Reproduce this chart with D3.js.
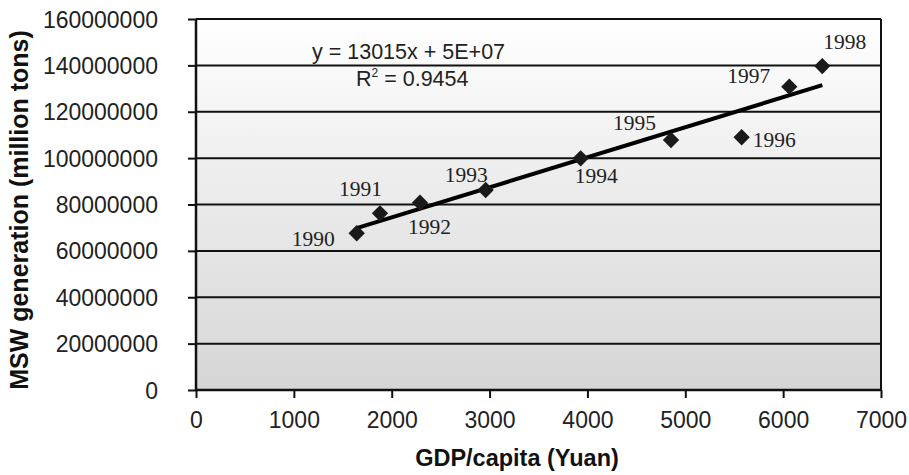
<!DOCTYPE html>
<html>
<head>
<meta charset="utf-8">
<script src="https://cdn.jsdelivr.net/npm/d3@7"></script>
<style>
  body { margin: 0; background: #fff; }
  svg { display: block; }
</style>
</head>
<body>
<svg id="drawing_region"></svg>
<script>
// values
const years = [1990, 1991, 1992, 1993, 1994, 1995, 1996, 1997, 1998];
const gdp = [1642, 1880, 2289, 2960, 3931, 4854, 5576, 6063, 6400];
const msw = [67.6e6, 76.2e6, 80.8e6, 86.25e6, 99.9e6, 107.8e6, 109.0e6, 130.8e6, 139.7e6];
const xTicks = [0, 1000, 2000, 3000, 4000, 5000, 6000, 7000];
const yTicks = [0, 20000000, 40000000, 60000000, 80000000, 100000000, 120000000, 140000000, 160000000];
const equationText = "y = 13015x + 5E+07";
const r2Text = "0.9454";

// label offsets for each year (dx, dy from the point)
const labelPos = [
  {dx: -65, dy: 13},
  {dx: -41, dy: -17},
  {dx: -12, dy: 31},
  {dx: -41, dy: -8},
  {dx: -6, dy: 25},
  {dx: -58, dy: -10},
  {dx: 11, dy: 10},
  {dx: -62, dy: -4},
  {dx: 1, dy: -17}
];

const data = years.map((y, i) => ({year: y, x: gdp[i], y: msw[i], lp: labelPos[i]}));

const config = {
  width: 909,
  height: 475,
  margin: {top: 19, right: 28, bottom: 85, left: 196}
};

const svg = d3.select('#drawing_region')
  .attr('width', config.width)
  .attr('height', config.height);

const inner_width = config.width - config.margin.left - config.margin.right;
const inner_height = config.height - config.margin.top - config.margin.bottom;

const chart = svg.append('g')
  .attr('transform', `translate(${config.margin.left}, ${config.margin.top})`);

const xscale = d3.scaleLinear().domain([0, 7000]).range([0, inner_width]);
const yscale = d3.scaleLinear().domain([0, 160000000]).range([inner_height, 0]);

// background gradient
const grad = svg.append('defs').append('linearGradient')
  .attr('id', 'bg').attr('x1', 0).attr('y1', 0).attr('x2', 0).attr('y2', 1);
grad.append('stop').attr('offset', '0%').attr('stop-color', '#ffffff');
grad.append('stop').attr('offset', '100%').attr('stop-color', '#d5d5d5');

chart.append('rect')
  .attr('width', inner_width)
  .attr('height', inner_height)
  .attr('fill', 'url(#bg)');

// gridlines
chart.selectAll('.grid')
  .data(yTicks)
  .join('line')
  .attr('class', 'grid')
  .attr('x1', 0).attr('x2', inner_width)
  .attr('y1', d => yscale(d)).attr('y2', d => yscale(d))
  .attr('stroke', '#111').attr('stroke-width', 2);

// right border
chart.append('line')
  .attr('x1', inner_width).attr('x2', inner_width)
  .attr('y1', 0).attr('y2', inner_height)
  .attr('stroke', '#111').attr('stroke-width', 2);

const xaxis = d3.axisBottom(xscale).tickValues(xTicks).tickSize(8).tickPadding(14).tickFormat(d3.format('d'));
const yaxis = d3.axisLeft(yscale).tickValues(yTicks).tickSize(8).tickPadding(30).tickFormat(d3.format('d'));

const xg = chart.append('g')
  .attr('transform', `translate(0, ${inner_height})`)
  .call(xaxis);
const yg = chart.append('g').call(yaxis);

[xg, yg].forEach(g => {
  g.select('.domain').attr('stroke', '#111').attr('stroke-width', 2.5);
  g.selectAll('.tick line').attr('stroke', '#111').attr('stroke-width', 2);
  g.selectAll('.tick text')
    .attr('font-family', 'Liberation Sans, Arial, sans-serif')
    .attr('font-size', 23)
    .attr('fill', '#222');
});
xg.select('.domain').attr('d', `M0,0H${inner_width}`);
yg.select('.domain').attr('d', `M0,${inner_height}V0`);
yg.selectAll('.tick text').attr('x', -38).attr('dy', '0.35em');

// trendline (least squares)
const mx = d3.mean(gdp), my = d3.mean(msw);
const slope = d3.sum(data, d => (d.x - mx) * (d.y - my)) / d3.sum(data, d => (d.x - mx) ** 2);
const icpt = my - slope * mx;
const xr = d3.extent(gdp);
chart.append('line')
  .attr('x1', xscale(xr[0])).attr('y1', yscale(slope * xr[0] + icpt))
  .attr('x2', xscale(xr[1])).attr('y2', yscale(slope * xr[1] + icpt))
  .attr('stroke', '#000').attr('stroke-width', 4);

// points
chart.selectAll('.pt')
  .data(data)
  .join('path')
  .attr('class', 'pt')
  .attr('d', d3.symbol().type(d3.symbolDiamond2).size(170))
  .attr('transform', d => `translate(${xscale(d.x)}, ${yscale(d.y)})`)
  .attr('fill', '#1a1a1a');

// year labels
chart.selectAll('.yl')
  .data(data)
  .join('text')
  .attr('class', 'yl')
  .attr('x', d => xscale(d.x) + d.lp.dx)
  .attr('y', d => yscale(d.y) + d.lp.dy)
  .attr('font-family', 'Liberation Serif, Times New Roman, serif')
  .attr('font-size', 21.5)
  .attr('fill', '#222')
  .text(d => d.year);

// equation
const eq = svg.append('g')
  .attr('font-family', 'Liberation Sans, Arial, sans-serif')
  .attr('font-size', 21.5)
  .attr('fill', '#222');
eq.append('text').attr('x', 312).attr('y', 59).text(equationText);
const r2 = eq.append('text').attr('x', 356).attr('y', 86);
r2.append('tspan').text('R');
r2.append('tspan').attr('font-size', 12).attr('dy', -9).text('2');
r2.append('tspan').attr('dy', 9).text(' = ' + r2Text);

// axis titles
svg.append('text')
  .attr('x', 517)
  .attr('y', 466)
  .attr('text-anchor', 'middle')
  .attr('font-family', 'Liberation Sans, Arial, sans-serif')
  .attr('font-weight', 'bold')
  .attr('font-size', 23.5)
  .attr('fill', '#111')
  .text('GDP/capita (Yuan)');

svg.append('text')
  .attr('transform', `translate(28, 210) rotate(-90)`)
  .attr('text-anchor', 'middle')
  .attr('font-family', 'Liberation Sans, Arial, sans-serif')
  .attr('font-weight', 'bold')
  .attr('font-size', 25)
  .attr('fill', '#111')
  .text('MSW generation (million tons)');
</script>
</body>
</html>
